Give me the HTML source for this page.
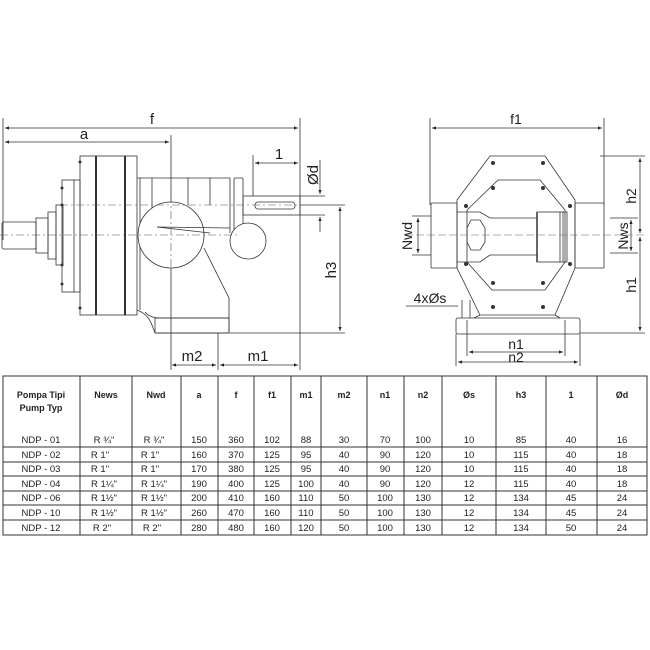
<!DOCTYPE html>
<html><head><style>
body{margin:0;background:#fff;}
svg{display:block;font-family:"Liberation Sans",sans-serif;}
</style></head><body>
<svg width="650" height="650" viewBox="0 0 650 650" xmlns="http://www.w3.org/2000/svg">
<defs><marker id="ar" viewBox="0 0 10 10" refX="10" refY="5" markerWidth="7" markerHeight="5" orient="auto-start-reverse"><path d="M0,1L10,5L0,9z" fill="#222"/></marker></defs>
<g stroke="#333" fill="none" stroke-width="0.8">
<line x1="3" y1="118" x2="3" y2="240"/><line x1="300" y1="118" x2="300" y2="370"/>
<line x1="5" y1="128" x2="298" y2="128" marker-start="url(#ar)" marker-end="url(#ar)"/>
<line x1="171" y1="135" x2="171" y2="370"/>
<line x1="5" y1="142" x2="169" y2="142" marker-start="url(#ar)" marker-end="url(#ar)"/>
<line x1="253" y1="155" x2="253" y2="196"/>
<line x1="255" y1="163" x2="298" y2="163" marker-start="url(#ar)" marker-end="url(#ar)"/>
<line x1="300" y1="196" x2="325" y2="196"/><line x1="300" y1="215" x2="325" y2="215"/>
<line x1="320" y1="160" x2="320" y2="194" marker-end="url(#ar)"/><line x1="320" y1="232" x2="320" y2="217" marker-end="url(#ar)"/>
<line x1="300" y1="205" x2="345" y2="205"/><line x1="230" y1="333" x2="345" y2="333"/>
<line x1="340" y1="207" x2="340" y2="331" marker-start="url(#ar)" marker-end="url(#ar)"/>
<line x1="218" y1="333" x2="218" y2="370"/>
<line x1="172" y1="365" x2="216" y2="365" marker-start="url(#ar)" marker-end="url(#ar)"/>
<line x1="220" y1="365" x2="298" y2="365" marker-start="url(#ar)" marker-end="url(#ar)"/>
<rect x="2" y="222" width="34" height="27" rx="2"/>
<rect x="36" y="218" width="12" height="35"/><rect x="48" y="212" width="8" height="47"/><rect x="56" y="205" width="7" height="60"/>
<rect x="62" y="180" width="18" height="112"/><line x1="74" y1="180" x2="74" y2="292"/>
<rect x="80" y="156" width="57" height="159"/>
<line x1="96" y1="156" x2="96" y2="315" stroke-width="2"/><line x1="125" y1="156" x2="125" y2="315" stroke-width="2"/>
<path d="M137 178 H230 V233 M140 178 V310"/>
<line x1="152" y1="178" x2="152" y2="210"/><line x1="188" y1="178" x2="188" y2="205"/><line x1="210" y1="178" x2="210" y2="205"/>
<rect x="234" y="178" width="9" height="55" rx="1"/>
<rect x="243" y="196" width="57" height="19"/><rect x="255" y="202" width="40" height="7" rx="3"/>
<circle cx="171" cy="235" r="33" fill="#fff"/>
<circle cx="248" cy="241" r="18" fill="#fff"/>
<line x1="157" y1="227" x2="210" y2="233"/><line x1="157" y1="227" x2="230" y2="228"/>
<path d="M204 248 L229 298 V318 M137 310 Q148 314 152 325 L155 333 H229 V318 H160 Q150 318 145 312"/>
<rect x="155" y="318" width="74" height="15"/>
</g>
<g stroke="#555" stroke-width="0.6" stroke-dasharray="8,3,2,3" fill="none">
<line x1="0" y1="235" x2="240" y2="235"/><line x1="60" y1="205" x2="300" y2="205"/>
<line x1="171" y1="195" x2="171" y2="275"/>
</g>
<g fill="#222" font-size="15" text-anchor="middle">
<text x="152" y="124">f</text><text x="84" y="139">a</text><text x="279" y="159">1</text>
<text x="192" y="361">m2</text><text x="258" y="361">m1</text>
<text transform="translate(318,175) rotate(-90)">Ød</text>
<text transform="translate(336,270) rotate(-90)">h3</text>
</g>
<g fill="#333"><circle cx="80" cy="162" r="1.5"/><circle cx="80" cy="308" r="1.5"/><circle cx="62" cy="188" r="1.5"/><circle cx="62" cy="284" r="1.5"/><circle cx="62" cy="205" r="1.5"/><circle cx="62" cy="265" r="1.5"/></g>

<g stroke="#333" fill="none" stroke-width="0.8">
<line x1="430" y1="118" x2="430" y2="205"/><line x1="604" y1="118" x2="604" y2="205"/>
<line x1="432" y1="128" x2="602" y2="128" marker-start="url(#ar)" marker-end="url(#ar)"/>
<path d="M490 156 H545 L575 200 V268 L555 315 H480 L457 268 V200 Z"/>
<path d="M498 180 H540 L565 210 V262 L545 290 H492 L467 262 V210 Z"/>
<path d="M457 212 H480 L490 218 H537 V255 H490 L480 262 H457"/>
<rect x="537" y="212" width="30" height="50"/><line x1="560" y1="212" x2="560" y2="262"/><line x1="563" y1="212" x2="563" y2="262"/><line x1="537" y1="212" x2="537" y2="262" stroke-width="1.5"/>
<polygon points="467,228 471,220 480,220 485,228 485,242 480,250 471,250 467,242"/>
<rect x="431" y="203" width="26" height="65" rx="1"/><rect x="575" y="203" width="29" height="65" rx="1"/>
<path d="M480 315 L474 318 M555 315 L560 318"/>
<rect x="456" y="318" width="124" height="16" rx="2"/>
<line x1="600" y1="156" x2="645" y2="156"/><line x1="580" y1="333" x2="645" y2="333"/>
<line x1="640" y1="158" x2="640" y2="233" marker-start="url(#ar)" marker-end="url(#ar)"/>
<line x1="640" y1="237" x2="640" y2="331" marker-start="url(#ar)" marker-end="url(#ar)"/>
<line x1="610" y1="218" x2="638" y2="218"/><line x1="610" y1="253" x2="638" y2="253"/>
<line x1="631" y1="220" x2="631" y2="251" marker-start="url(#ar)" marker-end="url(#ar)"/>
<line x1="412" y1="216" x2="431" y2="216"/><line x1="412" y1="255" x2="431" y2="255"/>
<line x1="418" y1="218" x2="418" y2="253" marker-start="url(#ar)" marker-end="url(#ar)"/>
<line x1="467" y1="320" x2="467" y2="356"/><line x1="565" y1="320" x2="565" y2="356"/>
<line x1="456" y1="334" x2="456" y2="366"/><line x1="580" y1="334" x2="580" y2="366"/>
<line x1="469" y1="352" x2="563" y2="352" marker-start="url(#ar)" marker-end="url(#ar)"/>
<line x1="458" y1="362" x2="578" y2="362" marker-start="url(#ar)" marker-end="url(#ar)"/>
<line x1="406" y1="306" x2="458" y2="306"/><line x1="462" y1="300" x2="462" y2="318"/><line x1="470" y1="300" x2="470" y2="318"/>
</g>
<g stroke="#666" stroke-width="0.6" stroke-dasharray="8,3" fill="none"><line x1="405" y1="235" x2="645" y2="235"/></g>
<g fill="#333">
<circle cx="493" cy="163" r="2"/><circle cx="543" cy="163" r="2"/><circle cx="493" cy="188" r="2"/><circle cx="543" cy="188" r="2"/>
<circle cx="466" cy="206" r="2"/><circle cx="570" cy="206" r="2"/><circle cx="466" cy="264" r="2"/><circle cx="570" cy="264" r="2"/>
<circle cx="493" cy="283" r="2"/><circle cx="543" cy="283" r="2"/><circle cx="493" cy="307" r="2"/><circle cx="543" cy="307" r="2"/>
</g>
<g fill="#222" font-size="14" text-anchor="middle">
<text x="516" y="124">f1</text><text x="516" y="349">n1</text><text x="516" y="362">n2</text>
<text x="430" y="303">4xØs</text>
<text transform="translate(412,236) rotate(-90)">Nwd</text>
<text transform="translate(628,236) rotate(-90)">Nws</text>
<text transform="translate(636,196) rotate(-90)">h2</text>
<text transform="translate(636,285) rotate(-90)">h1</text>
</g>

<g stroke="#333" stroke-width="1" fill="none">
<rect x="3" y="376" width="644" height="159"/>
<line x1="3" y1="447" x2="647" y2="447"/><line x1="3" y1="462" x2="647" y2="462"/><line x1="3" y1="476" x2="647" y2="476"/>
<line x1="3" y1="491" x2="647" y2="491"/><line x1="3" y1="505" x2="647" y2="505"/><line x1="3" y1="520" x2="647" y2="520"/>
<path d="M80 376V535M132 376V535M181 376V535M218 376V535M254 376V535M291 376V535M321 376V535M367 376V535M404 376V535M442 376V535M496 376V535M546 376V535M597 376V535"/>
</g>
<g font-size="9" fill="#222" text-anchor="middle" font-weight="bold">
<text x="41" y="398">Pompa Tipi</text><text x="41" y="411">Pump Typ</text>
<text x="106" y="398">News</text><text x="156" y="398">Nwd</text><text x="199" y="398">a</text><text x="236" y="398">f</text><text x="272" y="398">f1</text><text x="306" y="398">m1</text><text x="344" y="398">m2</text><text x="385" y="398">n1</text><text x="423" y="398">n2</text><text x="469" y="398">Øs</text><text x="521" y="398">h3</text><text x="571" y="398">1</text><text x="622" y="398">Ød</text>
</g>
<g font-size="9.5" fill="#222" text-anchor="middle">
<text y="443"><tspan x="41">NDP - 01</tspan><tspan x="104">R ¾"</tspan><tspan x="154">R ¾"</tspan><tspan x="199">150</tspan><tspan x="236">360</tspan><tspan x="272">102</tspan><tspan x="306">88</tspan><tspan x="344">30</tspan><tspan x="385">70</tspan><tspan x="423">100</tspan><tspan x="469">10</tspan><tspan x="521">85</tspan><tspan x="571">40</tspan><tspan x="622">16</tspan></text>
<text y="458"><tspan x="41">NDP - 02</tspan><tspan x="100">R 1"</tspan><tspan x="150">R 1"</tspan><tspan x="199">160</tspan><tspan x="236">370</tspan><tspan x="272">125</tspan><tspan x="306">95</tspan><tspan x="344">40</tspan><tspan x="385">90</tspan><tspan x="423">120</tspan><tspan x="469">10</tspan><tspan x="521">115</tspan><tspan x="571">40</tspan><tspan x="622">18</tspan></text>
<text y="472"><tspan x="41">NDP - 03</tspan><tspan x="100">R 1"</tspan><tspan x="150">R 1"</tspan><tspan x="199">170</tspan><tspan x="236">380</tspan><tspan x="272">125</tspan><tspan x="306">95</tspan><tspan x="344">40</tspan><tspan x="385">90</tspan><tspan x="423">120</tspan><tspan x="469">10</tspan><tspan x="521">115</tspan><tspan x="571">40</tspan><tspan x="622">18</tspan></text>
<text y="487"><tspan x="41">NDP - 04</tspan><tspan x="104">R 1¼"</tspan><tspan x="154">R 1¼"</tspan><tspan x="199">190</tspan><tspan x="236">400</tspan><tspan x="272">125</tspan><tspan x="306">100</tspan><tspan x="344">40</tspan><tspan x="385">90</tspan><tspan x="423">120</tspan><tspan x="469">12</tspan><tspan x="521">115</tspan><tspan x="571">40</tspan><tspan x="622">18</tspan></text>
<text y="501"><tspan x="41">NDP - 06</tspan><tspan x="104">R 1½"</tspan><tspan x="154">R 1½"</tspan><tspan x="199">200</tspan><tspan x="236">410</tspan><tspan x="272">160</tspan><tspan x="306">110</tspan><tspan x="344">50</tspan><tspan x="385">100</tspan><tspan x="423">130</tspan><tspan x="469">12</tspan><tspan x="521">134</tspan><tspan x="571">45</tspan><tspan x="622">24</tspan></text>
<text y="516"><tspan x="41">NDP - 10</tspan><tspan x="104">R 1½"</tspan><tspan x="154">R 1½"</tspan><tspan x="199">260</tspan><tspan x="236">470</tspan><tspan x="272">160</tspan><tspan x="306">110</tspan><tspan x="344">50</tspan><tspan x="385">100</tspan><tspan x="423">130</tspan><tspan x="469">12</tspan><tspan x="521">134</tspan><tspan x="571">45</tspan><tspan x="622">24</tspan></text>
<text y="531"><tspan x="41">NDP - 12</tspan><tspan x="102">R 2"</tspan><tspan x="152">R 2"</tspan><tspan x="199">280</tspan><tspan x="236">480</tspan><tspan x="272">160</tspan><tspan x="306">120</tspan><tspan x="344">50</tspan><tspan x="385">100</tspan><tspan x="423">130</tspan><tspan x="469">12</tspan><tspan x="521">134</tspan><tspan x="571">50</tspan><tspan x="622">24</tspan></text>
</g>
</svg>
</body></html>
